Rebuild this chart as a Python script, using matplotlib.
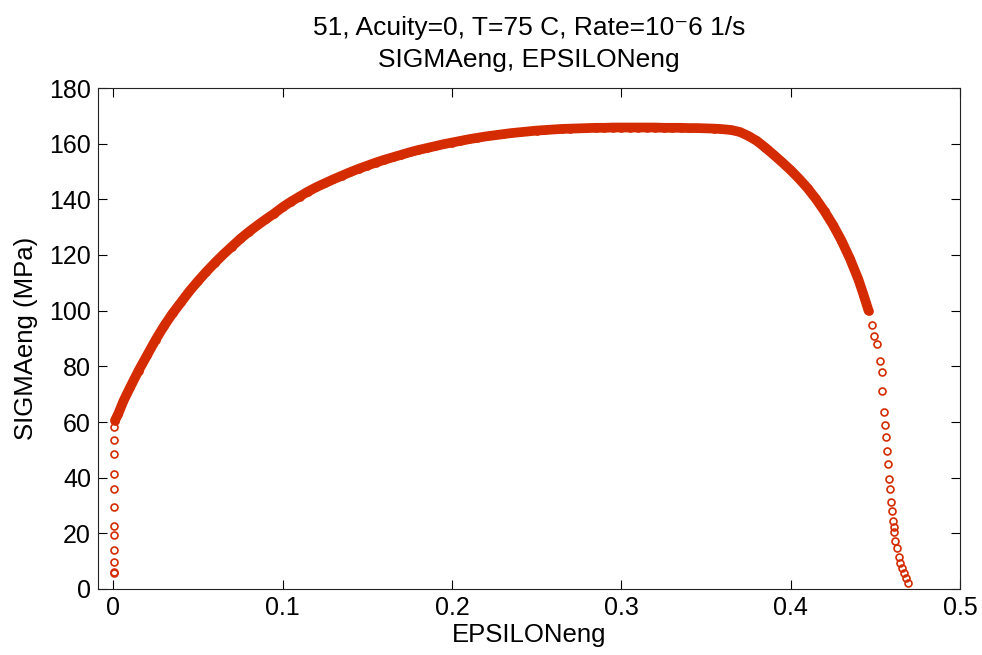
import matplotlib
matplotlib.use('Agg')
import matplotlib.pyplot as plt

# ---- data ----
start_strain = [0.0005, 0.0005, 0.0005, 0.0005, 0.0005, 0.0005,
                0.0005, 0.0005, 0.0005, 0.0005, 0.0005, 0.0005]
start_stress = [5.9, 6.2, 9.8, 14.0, 19.4, 22.6, 29.4, 35.9, 41.4, 48.5, 53.5, 58.3]

band_strain = [0.001, 0.003, 0.006, 0.010, 0.015, 0.020, 0.025, 0.030, 0.035, 0.040,
               0.045, 0.050, 0.055, 0.060, 0.065, 0.070, 0.075, 0.080, 0.085, 0.090,
               0.095, 0.100, 0.105, 0.110, 0.115, 0.120, 0.125, 0.130, 0.135, 0.140,
               0.145, 0.150, 0.155, 0.160, 0.165, 0.170, 0.175, 0.180, 0.185, 0.190,
               0.195, 0.200, 0.205, 0.210, 0.215, 0.220, 0.225, 0.230, 0.235, 0.240,
               0.245, 0.250, 0.255, 0.260, 0.265, 0.270, 0.275, 0.280, 0.285, 0.290,
               0.295, 0.300, 0.305, 0.310, 0.315, 0.320, 0.325, 0.330, 0.335, 0.340,
               0.345, 0.350, 0.355, 0.360, 0.365, 0.370, 0.375, 0.380, 0.385, 0.390,
               0.395, 0.400, 0.405, 0.410, 0.415, 0.420, 0.425, 0.430, 0.435, 0.440,
               0.443, 0.446]
band_stress = [60.5, 63.0, 67.5, 72.5, 78.5, 84.0, 89.5, 94.5, 99.0, 103.0,
               107.0, 110.6, 114.0, 117.2, 120.2, 123.0, 125.8, 128.3, 130.6, 132.8,
               134.9, 137.2, 139.2, 141.0, 142.8, 144.4, 145.8, 147.2, 148.5, 149.8,
               151.0, 152.1, 153.2, 154.2, 155.1, 156.0, 156.9, 157.7, 158.4, 159.1,
               159.8, 160.4, 161.0, 161.6, 162.1, 162.6, 163.0, 163.4, 163.8, 164.1,
               164.4, 164.7, 164.9, 165.1, 165.3, 165.4, 165.5, 165.6, 165.7, 165.7,
               165.8, 165.8, 165.8, 165.8, 165.8, 165.8, 165.7, 165.7, 165.7, 165.6,
               165.6, 165.5, 165.4, 165.2, 164.9, 164.2, 162.8, 161.0, 158.6, 156.0,
               153.3, 150.5, 147.4, 144.0, 140.1, 135.7, 130.8, 125.2, 118.7, 111.2,
               105.8, 100.0]

tail_strain = [0.4480, 0.4495, 0.4510, 0.4529, 0.4539, 0.4539, 0.4551, 0.4557, 0.4563,
               0.4568, 0.4574, 0.4580, 0.4584, 0.4590, 0.4596, 0.4602, 0.4608, 0.4612,
               0.4616, 0.4627, 0.4637, 0.4647, 0.4657, 0.4667, 0.4681, 0.4692]
tail_stress = [95.0, 91.0, 88.0, 82.0, 78.0, 71.0, 63.6, 59.0, 54.6,
               49.6, 44.9, 39.5, 36.0, 31.3, 28.0, 24.4, 22.3, 20.5,
               17.2, 14.7, 11.5, 9.3, 7.5, 5.7, 4.0, 2.2]

x_ticks = [0, 0.1, 0.2, 0.3, 0.4, 0.5]
x_tick_labels = ['0', '0.1', '0.2', '0.3', '0.4', '0.5']
y_ticks = [0, 20, 40, 60, 80, 100, 120, 140, 160, 180]

title_text = "51, Acuity=0, T=75 C, Rate=10\u207b6 1/s\nSIGMAeng, EPSILONeng"
x_label = "EPSILONeng"
y_label = "SIGMAeng (MPa)"

# ---- drawing ----
plt.rcParams['font.family'] = ['Liberation Sans', 'DejaVu Sans']
color = '#D42B00'

fig = plt.figure(figsize=(9.82, 6.55), dpi=100)
ax = fig.add_axes([98 / 982, 66 / 655, (960 - 98) / 982, (589 - 88) / 655])

ax.plot(band_strain, band_stress, '-', color=color, lw=7,
        solid_capstyle='round', solid_joinstyle='round')
ax.plot(band_strain, band_stress, 'o', mfc='none', mec=color, ms=5, mew=1.2)
ax.plot(start_strain, start_stress, 'o', mfc='none', mec=color, ms=5, mew=1.2)
ax.plot(tail_strain, tail_stress, 'o', mfc='none', mec=color, ms=5, mew=1.2)

ax.set_xlim(-0.009, 0.5)
ax.set_ylim(0, 180)
ax.set_xticks(x_ticks)
ax.set_xticklabels(x_tick_labels)
ax.set_yticks(y_ticks)
ax.tick_params(direction='in', length=6.5, width=0.8, top=True, right=True,
               labelsize=18, pad=5, colors='black')
for s in ax.spines.values():
    s.set_linewidth(0.8)
    s.set_color('#222222')

ax.set_xlabel(x_label, fontsize=18.5, labelpad=2)
ax.set_ylabel(y_label, fontsize=18.5, labelpad=8)
ax.set_title(title_text, fontsize=19, pad=15, linespacing=1.42)

fig.savefig('out.png', dpi=100)
